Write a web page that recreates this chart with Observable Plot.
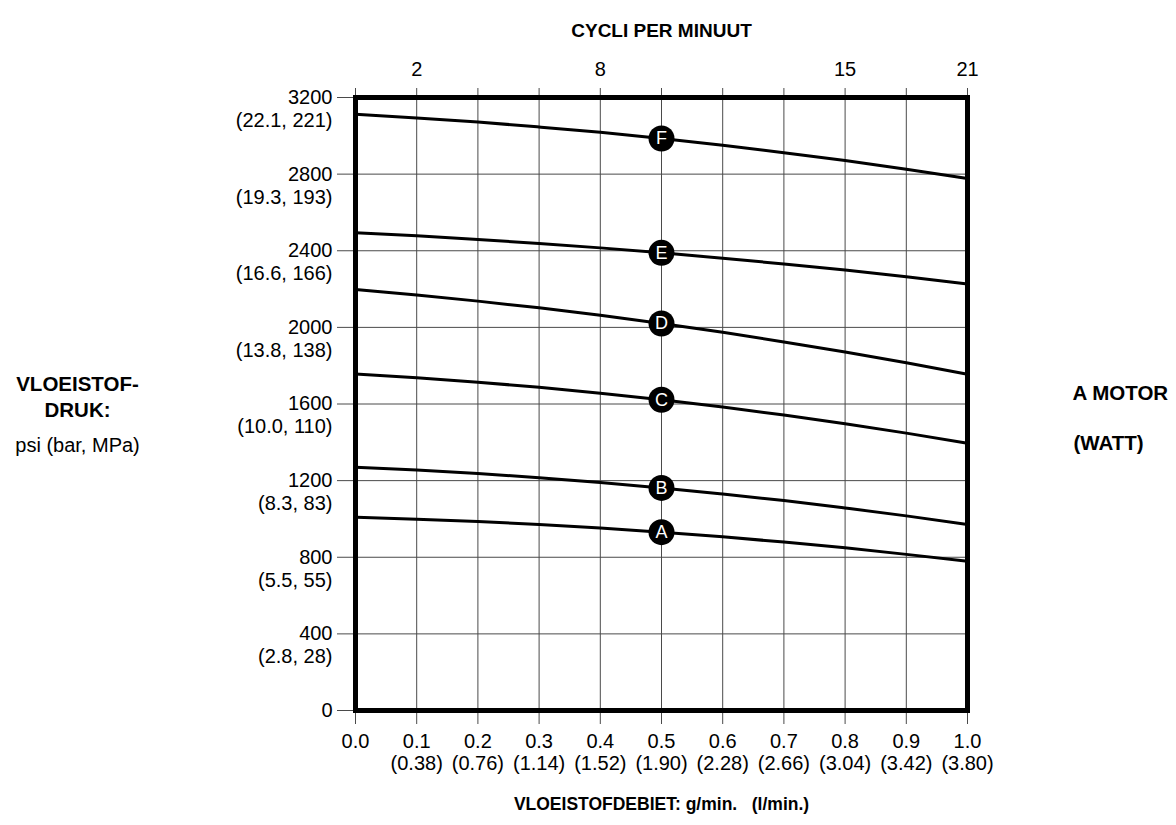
<!DOCTYPE html>
<html><head><meta charset="utf-8">
<script src="https://cdn.jsdelivr.net/npm/d3@7"></script>
<script src="https://cdn.jsdelivr.net/npm/@observablehq/plot@0.6"></script>
<style>body{margin:0;background:#fff;font-family:"Liberation Sans",Arial,sans-serif}</style>
</head><body><div id="chart"></div>
<script>
// Flow (g/min) sample positions
const flow = [0, 0.1, 0.2, 0.3, 0.4, 0.5, 0.6, 0.7, 0.8, 0.9, 1.0];
// Pressure curves (psi) per motor
const curveA = [1009, 999, 987, 971, 953, 931, 907, 879, 849, 815, 779];
const curveB = [1270, 1255, 1237, 1215, 1190, 1162, 1130, 1096, 1057, 1016, 971];
const curveC = [1756, 1737, 1714, 1687, 1656, 1622, 1584, 1542, 1497, 1448, 1395];
const curveD = [2198, 2169, 2137, 2102, 2063, 2020, 1974, 1924, 1871, 1815, 1755];
const curveE = [2494, 2478, 2459, 2438, 2415, 2389, 2361, 2331, 2299, 2264, 2227];
const curveF = [3112, 3093, 3072, 3046, 3018, 2986, 2951, 2912, 2871, 2825, 2777];
const curveNames = ["A", "B", "C", "D", "E", "F"];
const labelFlow = 0.5;

// Tick labels
const psiTicks = [0, 400, 800, 1200, 1600, 2000, 2400, 2800, 3200];
const barMpaLabels = ["", "(2.8, 28)", "(5.5, 55)", "(8.3, 83)", "(10.0, 110)", "(13.8, 138)", "(16.6, 166)", "(19.3, 193)", "(22.1, 221)"];
const flowLabels = ["0.0", "0.1", "0.2", "0.3", "0.4", "0.5", "0.6", "0.7", "0.8", "0.9", "1.0"];
const lpmLabels = ["", "(0.38)", "(0.76)", "(1.14)", "(1.52)", "(1.90)", "(2.28)", "(2.66)", "(3.04)", "(3.42)", "(3.80)"];
const cycleTicks = [0.1, 0.4, 0.8, 1.0];
const cycleLabels = ["2", "8", "15", "21"];

const series = [curveA, curveB, curveC, curveD, curveE, curveF];
const rows = [];
series.forEach((vals, i) => vals.forEach((v, j) => rows.push({curve: curveNames[i], flow: flow[j], psi: v})));
const markers = rows.filter(d => d.flow === labelFlow);

const FS = 20;
const chart = Plot.plot({
  width: 1176,
  height: 825,
  marginLeft: 355,
  marginRight: 209,
  marginTop: 97,
  marginBottom: 115,
  x: {domain: [0, 1]},
  y: {domain: [0, 3200]},
  style: {fontFamily: "'Liberation Sans', Arial, sans-serif", fontSize: FS + "px", color: "#000", background: "#fff"},
  marks: [
    Plot.gridX(flow, {stroke: "#4a4a4a", strokeOpacity: 1, strokeWidth: 1}),
    Plot.gridY(psiTicks, {stroke: "#4a4a4a", strokeOpacity: 1, strokeWidth: 1}),
    // left axis
    Plot.axisY(psiTicks, {tickSize: 18, tickPadding: 5, stroke: "#4a4a4a", fontSize: FS, label: null, tickFormat: d => String(d)}),
    Plot.axisY(psiTicks, {tickSize: 0, tickPadding: 23, dy: 23, fontSize: FS, label: null, tickFormat: d => barMpaLabels[psiTicks.indexOf(d)]}),
    // bottom axis
    Plot.axisX(flow, {anchor: "bottom", tickSize: 14, tickPadding: 9, stroke: "#4a4a4a", fontSize: FS, label: null, tickFormat: d => flowLabels[flow.indexOf(d)]}),
    Plot.axisX(flow, {anchor: "bottom", tickSize: 0, tickPadding: 23, dy: 22, fontSize: FS, label: null, tickFormat: d => lpmLabels[flow.indexOf(d)]}),
    // top axis
    Plot.axisX(flow, {anchor: "top", tickSize: 10, stroke: "#4a4a4a", label: null, tickFormat: () => ""}),
    Plot.axisX(cycleTicks, {anchor: "top", tickSize: 0, tickPadding: 22, fontSize: FS, label: null, tickFormat: d => cycleLabels[cycleTicks.indexOf(d)]}),
    // curves
    Plot.line(rows, {x: "flow", y: "psi", z: "curve", stroke: "#000", strokeWidth: 3, curve: "natural"}),
    Plot.dot(markers, {x: "flow", y: "psi", r: 13, fill: "#000", stroke: "none"}),
    Plot.text(markers, {x: "flow", y: "psi", text: "curve", fill: "#fff", fontSize: 18}),
    Plot.frame({stroke: "#000", strokeWidth: 5}),
    // titles
    Plot.text(["CYCLI PER MINUUT"], {frameAnchor: "top", dy: -74, fontWeight: "bold", fontSize: 19}),
    Plot.text(["VLOEISTOFDEBIET: g/min.\u00a0\u00a0\u00a0(l/min.)"], {frameAnchor: "bottom", dy: 99, fontWeight: "bold", fontSize: 17.5}),
    Plot.text(["VLOEISTOF-"], {frameAnchor: "left", textAnchor: "middle", dx: -278, dy: -20, fontWeight: "bold", fontSize: 20.5}),
    Plot.text(["DRUK:"], {frameAnchor: "left", textAnchor: "middle", dx: -278, dy: 6, fontWeight: "bold", fontSize: 20.5}),
    Plot.text(["psi (bar, MPa)"], {frameAnchor: "left", textAnchor: "middle", dx: -278, dy: 42, fontSize: 20}),
    Plot.text(["A MOTOR"], {frameAnchor: "right", textAnchor: "start", dx: 105, dy: -11, fontWeight: "bold", fontSize: 20.5}),
    Plot.text(["(WATT)"], {frameAnchor: "right", textAnchor: "start", dx: 106, dy: 39, fontWeight: "bold", fontSize: 20.5})
  ]
});
document.getElementById("chart").append(chart);
</script>
</body></html>
